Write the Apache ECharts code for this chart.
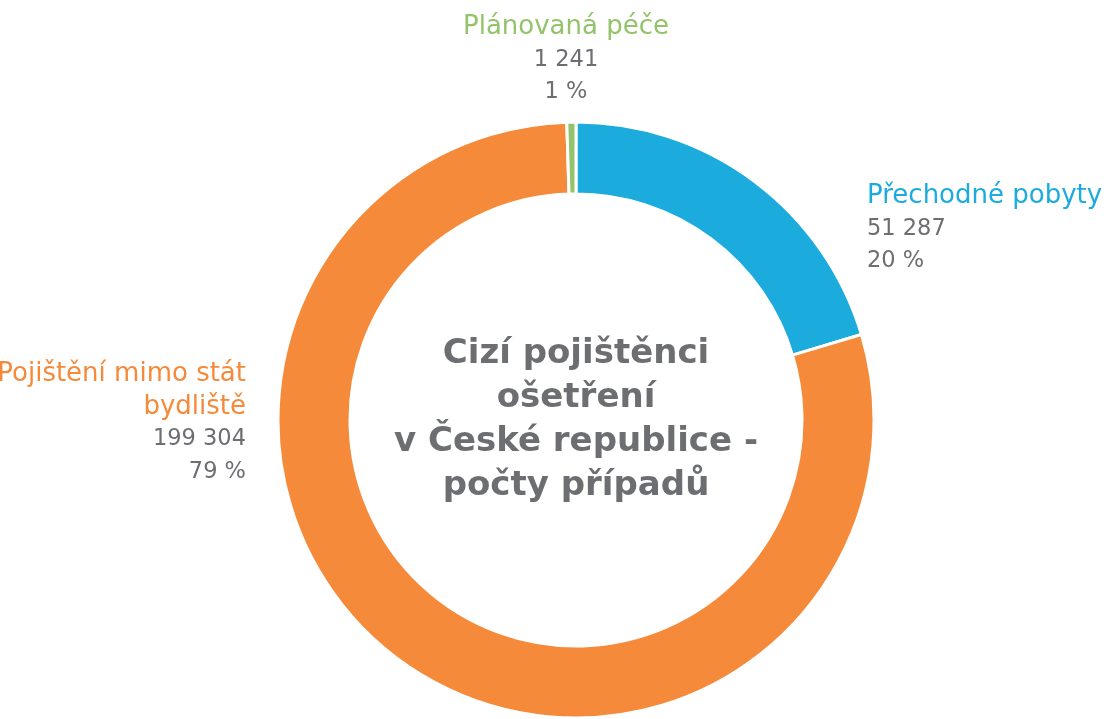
<!DOCTYPE html>
<html>
<head>
<meta charset="utf-8">
<script src="https://cdn.jsdelivr.net/npm/echarts@6/dist/echarts.min.js"></script>
<style>
  html, body { margin: 0; padding: 0; background: #fff; }
  #chart { width: 1113px; height: 719px; }
</style>
</head>
<body>
<div id="chart"></div>
<script>
// data
var categories = ['Přechodné pobyty', 'Pojištění mimo stát\nbydliště', 'Plánovaná péče']
var values = [51287, 199304, 1241]
var percents = [20, 79, 1]
var colors = ['#1cabdd', '#f58a3b', '#93c36b']
var centerTitle = 'Cizí pojištěnci\nošetření\nv České republice -\npočty případů'

var FONT = 'DejaVu Sans'

function fmt(n) {
    return String(n).replace(/\B(?=(\d{3})+(?!\d))/g, ' ')
}

// where each label goes (x, y, align)
var labelPos = [
    { x: 867, y: 180, align: 'left' },
    { x: 246, y: 358, align: 'right' },
    { x: 566, y: 11, align: 'center' }
]

var pieData = categories.map(function (c, i) {
    return {
        name: c,
        value: values[i],
        itemStyle: { color: colors[i] },
        label: {
            rich: {
                n: { fontSize: 26, fontFamily: FONT, lineHeight: 32.5, color: colors[i] },
                v: { fontSize: 22.5, fontFamily: FONT, lineHeight: 32.5, color: '#6d6e71' }
            }
        }
    }
})

var myChart = echarts.init(document.getElementById('chart'))

myChart.setOption({
    animation: false,
    graphic: [{
        type: 'text',
        x: 576,
        y: 420,
        style: {
            text: centerTitle,
            align: 'center',
            verticalAlign: 'middle',
            font: 'bold 34px "' + FONT + '"',
            lineHeight: 44,
            fill: '#6d6e71'
        }
    }],
    series: [{
        type: 'pie',
        center: [576, 420],
        radius: [226, 298],
        startAngle: 90,
        clockwise: true,
        silent: true,
        itemStyle: { borderColor: '#fff', borderWidth: 3 },
        labelLine: { show: false },
        label: {
            show: true,
            position: 'outside',
            fontFamily: FONT,
            fontSize: 24,
            formatter: function (p) {
                var nameLines = p.name.split('\n').map(function (s) { return '{n|' + s + '}' })
                return nameLines.join('\n') + '\n{v|' + fmt(p.value) + '}\n{v|' + percents[p.dataIndex] + ' %}'
            }
        },
        labelLayout: function (params) {
            var p = labelPos[params.dataIndex]
            return { x: p.x, y: p.y, align: p.align, verticalAlign: 'top', hideOverlap: false }
        },
        data: pieData
    }]
})
</script>
</body>
</html>
